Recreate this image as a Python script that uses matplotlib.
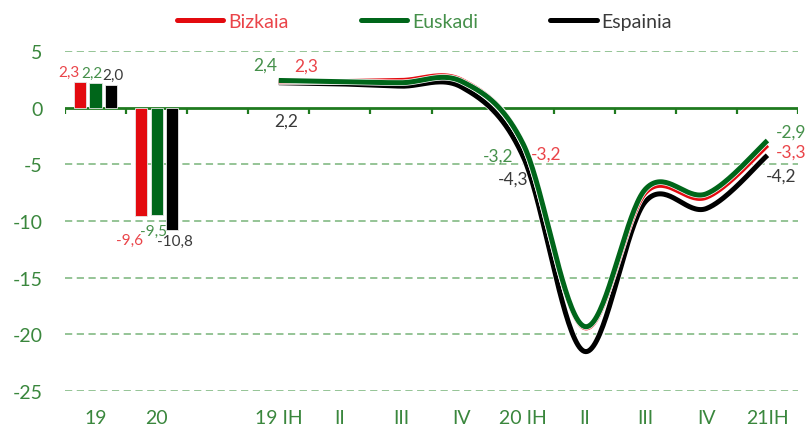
import matplotlib.pyplot as plt
import matplotlib.patheffects as pe
from matplotlib.lines import Line2D
import numpy as np

plt.rcParams['font.family'] = ['Lato', 'DejaVu Sans']

# datuak
series = ["Bizkaia", "Euskadi", "Espainia"]
annual_labels = ["19", "20"]
annual_bizkaia = [2.3, -9.6]
annual_euskadi = [2.2, -9.5]
annual_espainia = [2.0, -10.8]

quarter_labels = ["19 IH", "II", "III", "IV", "20 IH", "II", "III", "IV", "21IH"]
q_bizkaia = [2.3, 2.3, 2.4, 2.4, -3.2, -19.4, -7.5, -7.9, -3.3]
q_euskadi = [2.4, 2.3, 2.2, 2.3, -3.2, -19.3, -7.2, -7.6, -2.9]
q_espainia = [2.2, 2.1, 1.9, 1.8, -4.3, -21.5, -8.3, -8.9, -4.2]

line_colors = {"Bizkaia": "#E30A0F", "Euskadi": "#00661A", "Espainia": "#000000"}
text_colors = {"Bizkaia": "#EA4449", "Euskadi": "#45904A", "Espainia": "#3A3A3A"}
AXIS_GREEN = "#3A873D"
GRID_GREEN = "#8CBF8E"


def smooth(x, y, n=40):
    """Excel moduko leunketa (Catmull-Rom)"""
    x = np.asarray(x, float)
    y = np.asarray(y, float)
    px = np.concatenate([[x[0]], x, [x[-1]]])
    py = np.concatenate([[y[0]], y, [y[-1]]])
    xs, ys = [], []
    t = np.linspace(0, 1, n)
    for i in range(1, len(px) - 2):
        p0 = np.array([px[i], py[i]])
        p3 = np.array([px[i + 1], py[i + 1]])
        c1 = p0 + (np.array([px[i + 1], py[i + 1]]) - np.array([px[i - 1], py[i - 1]])) / 6
        c2 = p3 - (np.array([px[i + 2], py[i + 2]]) - np.array([px[i], py[i]])) / 6
        b = ((1 - t) ** 3)[:, None] * p0 + (3 * (1 - t) ** 2 * t)[:, None] * c1 \
            + (3 * (1 - t) * t ** 2)[:, None] * c2 + (t ** 3)[:, None] * p3
        xs.append(b[:, 0])
        ys.append(b[:, 1])
    return np.concatenate(xs), np.concatenate(ys)


fig = plt.figure(figsize=(8.07, 4.31), dpi=100)
ax = fig.add_axes([65 / 807, 1 - 392 / 431, 733 / 807, 340 / 431])

all_labels = annual_labels + [""] + quarter_labels
ax.set_xlim(0, len(all_labels))
ax.set_ylim(-25, 5)

# barrak
bar_x = np.arange(len(annual_labels)) + 0.5
width = 0.2
step = 0.254
annual = {"Bizkaia": annual_bizkaia, "Euskadi": annual_euskadi, "Espainia": annual_espainia}
bar_label_off = {
    "Bizkaia": [(-8, 7), (-8, -17)],
    "Euskadi": [(-2.5, 7), (-2.5, -11)],
    "Espainia": [(1, 7), (2, -8)],
}
for k, s in enumerate(series):
    xs = bar_x + (k - 1) * step
    ax.bar(xs, annual[s], width=width, color=line_colors[s], edgecolor="#e6e6e6",
           linewidth=0.6, zorder=3)
    for i, (xv, v) in enumerate(zip(xs, annual[s])):
        dx, dy = bar_label_off[s][i]
        ax.annotate(f"{v:.1f}".replace(".", ","), (xv, v), xytext=(dx, dy),
                    textcoords="offset points", ha="center", va="center",
                    fontsize=11, color=text_colors[s], zorder=5)

# lerroak
qx = np.arange(len(quarter_labels)) + len(annual_labels) + 1.5
quarters = {"Bizkaia": q_bizkaia, "Euskadi": q_euskadi, "Espainia": q_espainia}
z = {"Espainia": 4, "Bizkaia": 5, "Euskadi": 6}
for s in series:
    sx, sy = smooth(qx, quarters[s])
    ax.plot(sx, sy, color=line_colors[s], lw=3.6, solid_capstyle="butt", zorder=z[s],
            path_effects=[pe.Stroke(linewidth=4.6, foreground="white"), pe.Normal()])

line_label_off = {
    "Bizkaia": {0: (20, 11.5), 4: (16.5, -7), 8: (17, -4.7)},
    "Euskadi": {0: (-9.5, 11.3), 4: (-18, -8.6), 8: (17, 6.5)},
    "Espainia": {0: (5, -27), 4: (-7, -16), 8: (10, -14.6)},
}
for s in series:
    for i, (dx, dy) in line_label_off[s].items():
        v = quarters[s][i]
        ax.annotate(f"{v:.1f}".replace(".", ","), (qx[i], v), xytext=(dx, dy),
                    textcoords="offset points", ha="center", va="center",
                    fontsize=12.5, color=text_colors[s], zorder=7)

# ardatzak
for sp in ax.spines.values():
    sp.set_visible(False)
ax.set_yticks(np.arange(-25, 6, 5))
ax.set_yticklabels([str(v) for v in range(-25, 6, 5)])
ax.tick_params(axis="y", length=0, pad=16, labelsize=14, labelcolor=AXIS_GREEN)
ax.set_xticks(np.arange(len(all_labels)) + 0.5)
ax.set_xticklabels(all_labels)
ax.tick_params(axis="x", length=0, pad=13, labelsize=14, labelcolor=AXIS_GREEN)
for v in range(-25, 6, 5):
    if v != 0:
        ax.axhline(v, color=GRID_GREEN, lw=1.3, ls=(0, (4, 2.5)), zorder=1)
ax.axhline(0, color="#1F7A1F", lw=2.0, zorder=2)
ax.vlines(np.arange(len(all_labels) + 1), -0.55, 0, color="#1F7A1F", lw=1.6, zorder=2)

# legenda
handles = [Line2D([0], [0], color=line_colors[s], lw=3.6, solid_capstyle="round") for s in series]
fig.legend(handles, series, loc="upper center", bbox_to_anchor=(0.526, 1.008), ncol=3,
           frameon=False, fontsize=14, handlelength=2.4, handletextpad=0.25,
           columnspacing=3.7, labelcolor=[text_colors[s] for s in series])

fig.savefig("out.png", dpi=100)
